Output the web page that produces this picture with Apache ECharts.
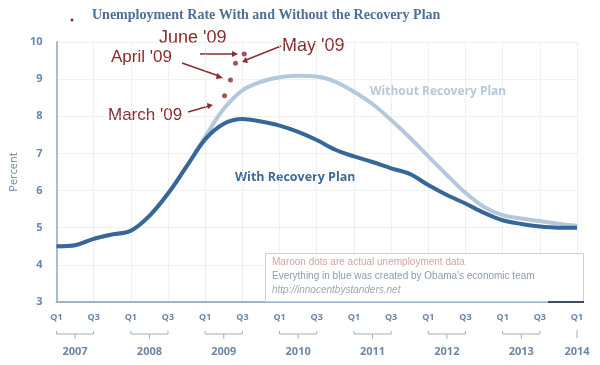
<!DOCTYPE html>
<html><head><meta charset="utf-8">
<script src="https://cdn.jsdelivr.net/npm/echarts@6/dist/echarts.min.js"></script>
<style>html,body{margin:0;padding:0;background:#fff}#c{width:600px;height:365px}</style>
</head><body><div id="c"></div>
<script>
// quarter index: 0 = Q1 2007 ... 28 = Q1 2014
var quarters = [0,1,2,3,4,5,6,7,8,9,10,11,12,13,14,15,16,17,18,19,20,21,22,23,24,25,26,27,28];
var withPlan = [4.5,4.53,4.7,4.82,4.92,5.32,5.92,6.65,7.38,7.8,7.93,7.86,7.75,7.58,7.36,7.1,6.92,6.77,6.6,6.45,6.15,5.88,5.65,5.4,5.2,5.1,5.03,5.0,5.0];
var withoutPlan = [4.5,4.53,4.7,4.82,4.92,5.32,5.92,6.65,7.45,8.2,8.7,8.93,9.05,9.09,9.07,8.93,8.66,8.33,7.9,7.43,6.92,6.42,5.94,5.56,5.34,5.25,5.18,5.11,5.05];
var actualMonths = ["March '09","April '09","May '09","June '09"];
var actualX = [9.04,9.36,9.63,10.1];
var actualRate = [8.55,8.98,9.43,9.68];
var yTicks = [3,4,5,6,7,8,9,10];
var quarterLabels = ['Q1','Q3'];
var years = [2007,2008,2009,2010,2011,2012,2013,2014];

function pairs(xs, ys){ return xs.map(function(x,i){return [x, ys[i]];}); }

var chart = echarts.init(document.getElementById('c'), null, {renderer:'canvas'});
var axisFont = 'Open Sans';
var maroon = '#8a2a2c';
var annoFont = '"Liberation Sans", Arial, sans-serif';

var yearData = years.map(function(y, i){ return [i*4, 3, y]; });

chart.setOption({
  animation: false,
  backgroundColor: '#fff',
  title: {
    text: 'Unemployment Rate With and Without the Recovery Plan',
    left: 87, top: 3,
    textStyle: {fontFamily: 'Liberation Serif', fontWeight: 'bold', fontSize: 14, color: '#4d6f98'}
  },
  grid: {left: 52, right: 23, top: 42, bottom: 63},
  xAxis: {
    type: 'value', min: 0, max: 28, interval: 2,
    axisLine: {show: true, lineStyle: {color: '#9fb2c6', width: 2}},
    axisTick: {show: false},
    splitLine: {show: true, lineStyle: {type: 'dotted', color: '#dfe4ea'}},
    axisLabel: {
      margin: 11, fontFamily: axisFont, fontWeight: 'bold', fontSize: 9, color: '#6c86a8',
      formatter: function(v){ return quarterLabels[(v % 4) / 2]; }
    }
  },
  yAxis: {
    type: 'value', min: 3, max: 10, interval: 1,
    name: 'Percent', nameLocation: 'middle', nameGap: 36, nameRotate: 90,
    nameTextStyle: {fontFamily: axisFont, fontSize: 11, color: '#6c86a8'},
    axisLine: {show: true, lineStyle: {color: '#a9bbcc', width: 2}},
    axisTick: {show: false},
    splitLine: {show: true, lineStyle: {type: 'dotted', color: '#dfe4ea'}},
    axisLabel: {margin: 14, fontFamily: axisFont, fontWeight: 'bold', fontSize: 11, color: '#6c86a8'}
  },
  series: [
    {
      type: 'line', name: 'Without Recovery Plan', data: pairs(quarters, withoutPlan),
      smooth: 0.35, symbol: 'none', lineStyle: {color: '#b3c8dc', width: 4}, z: 2
    },
    {
      type: 'line', name: 'With Recovery Plan', data: pairs(quarters, withPlan),
      smooth: 0.35, symbol: 'none', lineStyle: {color: '#376799', width: 4}, z: 3
    },
    {
      type: 'scatter', name: 'Actual', data: pairs(actualX, actualRate),
      symbolSize: 5, itemStyle: {color: maroon}, z: 5
    },
    {
      type: 'custom', name: 'years', data: yearData, clip: false, silent: true,
      encode: {x: 0, y: 1},
      renderItem: function(params, api){
        var q = api.value(0), yr = api.value(2);
        var base = api.coord([q, 3]);
        var yb = base[1] + 32;
        var col = '#9fb0c4';
        var children = [];
        var cx;
        if (yr < 2014) {
          var a = api.coord([q, 3])[0], b = api.coord([q + 2, 3])[0];
          cx = api.coord([q + 1, 3])[0];
          children.push({type:'line', shape:{x1:a,y1:yb,x2:b,y2:yb}, style:{stroke:col, lineWidth:1}});
          children.push({type:'line', shape:{x1:a,y1:yb-3,x2:a,y2:yb}, style:{stroke:col, lineWidth:1}});
          children.push({type:'line', shape:{x1:b,y1:yb-3,x2:b,y2:yb}, style:{stroke:col, lineWidth:1}});
          children.push({type:'line', shape:{x1:cx,y1:yb,x2:cx,y2:yb+5}, style:{stroke:col, lineWidth:1}});
        } else {
          cx = base[0];
          children.push({type:'line', shape:{x1:cx,y1:yb-4,x2:cx,y2:yb+4}, style:{stroke:col, lineWidth:1}});
        }
        children.push({type:'text', style:{text:String(yr), x:cx, y:yb+18, align:'center', verticalAlign:'middle',
          font:'bold 11px "Open Sans"', fill:'#6c86a8'}});
        return {type:'group', children: children};
      }
    }
  ],
  graphic: [
    {type:'circle', shape:{cx:72, cy:20, r:1.5}, style:{fill:maroon}},
    // annotation labels
    {type:'text', left:159, top:29, style:{text:actualMonths[3], font:'18px '+annoFont, fill:maroon}},
    {type:'text', left:111, top:49, style:{text:actualMonths[1], font:'17px '+annoFont, fill:maroon}},
    {type:'text', left:282, top:37, style:{text:actualMonths[2], font:'18px '+annoFont, fill:maroon}},
    {type:'text', left:108, top:107, style:{text:actualMonths[0], font:'17px '+annoFont, fill:maroon}},
    // arrows
    {type:'line', shape:{x1:200,y1:54,x2:234,y2:54}, style:{stroke:maroon, lineWidth:1.5}},
    {type:'polygon', shape:{points:[[238,54],[232,51],[232,57]]}, style:{fill:maroon}},
    {type:'line', shape:{x1:281,y1:46,x2:246,y2:60}, style:{stroke:maroon, lineWidth:1.5}},
    {type:'polygon', shape:{points:[[242,62],[246,57],[248,63]]}, style:{fill:maroon}},
    {type:'line', shape:{x1:182,y1:63,x2:219,y2:76}, style:{stroke:maroon, lineWidth:1.5}},
    {type:'polygon', shape:{points:[[223,78],[217,73],[216,79]]}, style:{fill:maroon}},
    {type:'line', shape:{x1:188,y1:112,x2:209,y2:106}, style:{stroke:maroon, lineWidth:1.5}},
    {type:'polygon', shape:{points:[[213,105],[207,103],[208,109]]}, style:{fill:maroon}},
    // series labels
    {type:'text', left:370, top:86, style:{text:'Without Recovery Plan', font:'bold 12px "Open Sans"', fill:'#b7c8da'}},
    {type:'text', left:235, top:171, style:{text:'With Recovery Plan', font:'bold 12.5px "Open Sans"', fill:'#3f6a98'}},
    // note box
    {type:'rect', shape:{x:265.5, y:253.5, width:318, height:48}, style:{fill:'#fff', stroke:'#d9cccc', lineWidth:1}, z:10},
    {type:'line', shape:{x1:548, y1:302, x2:584, y2:302}, style:{stroke:'#3d4d60', lineWidth:2}, z:11},
    {type:'text', left:272, top:257, z:11, style:{text:'Maroon dots are actual unemployment data', font:'10px "Liberation Sans"', fill:'#d6a3a3'}},
    {type:'text', left:272, top:271, z:11, style:{text:"Everything in blue was created by Obama's economic team", font:'10px "Liberation Sans"', fill:'#8d9bb0'}},
    {type:'text', left:272, top:285, z:11, style:{text:'http://innocentbystanders.net', font:'italic 10px "Liberation Sans"', fill:'#a0a6ae'}}
  ]
});
</script></body></html>
